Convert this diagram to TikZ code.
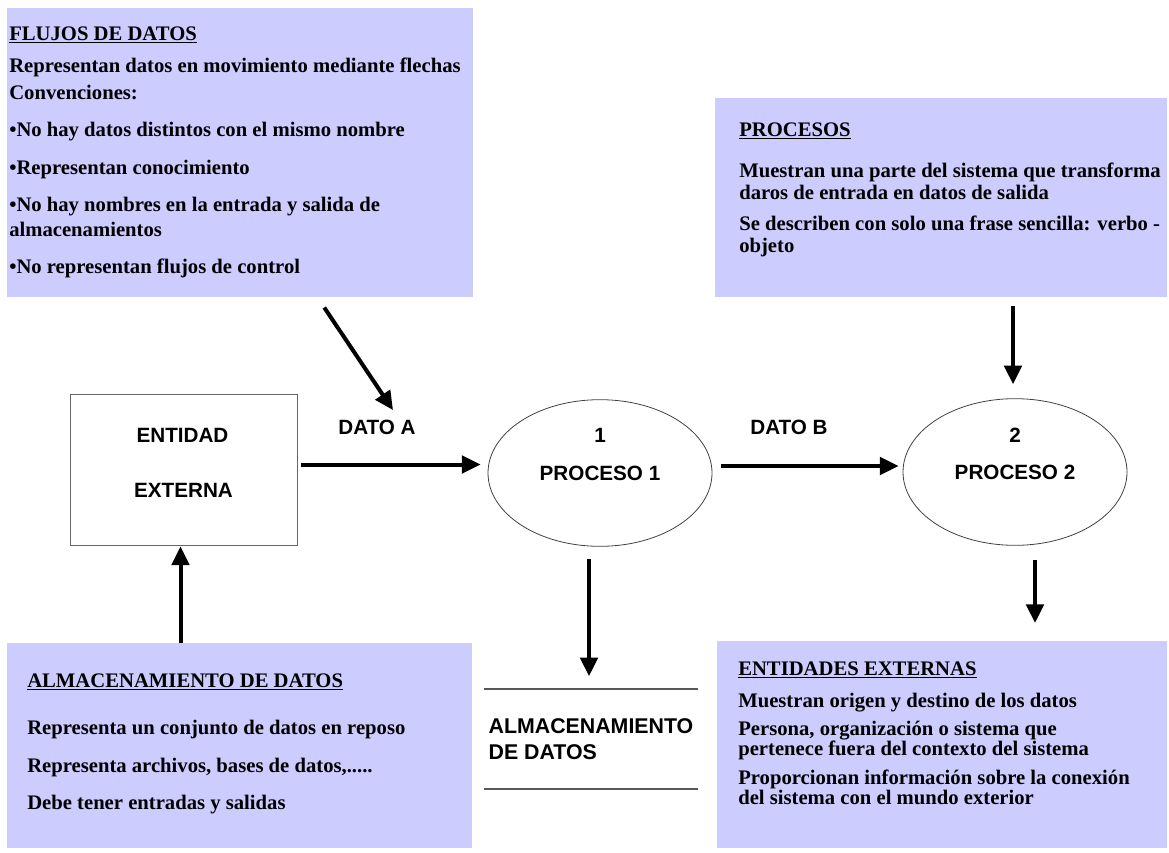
\documentclass[tikz,border=0pt]{standalone}
\usepackage{fontspec}
\setmainfont{Liberation Serif}
\setsansfont{Liberation Sans}
\usepackage{xcolor}
\usepackage{tikz}
\usetikzlibrary{positioning,arrows.meta,calc,shapes.geometric}
\definecolor{panelblue}{RGB}{204,204,255}

\begin{document}
\begin{tikzpicture}[
  x=0.75pt, y=-0.75pt,
  panel/.style={fill=panelblue, draw=none, inner sep=0pt, anchor=north west},
  ptxt/.style={font={\bfseries\fontsize{15.5}{#1}\selectfont\lineskiplimit=-30pt}, align=left, anchor=north west, inner sep=0pt},
  ptxt/.default=17pt,
  lbl/.style={font=\sffamily\bfseries\fontsize{15.5}{20}\selectfont, inner sep=1pt},
  proc/.style={ellipse, draw=black!75, line width=0.6pt, minimum width=168pt, minimum height=110pt, inner sep=0pt, font=\sffamily\bfseries\fontsize{15.5}{20}\selectfont},
  entbox/.style={draw=black!60, line width=0.6pt, minimum width=170.25pt, minimum height=113.25pt, inner sep=0pt},
  storebox/.style={minimum width=159.75pt, minimum height=74.25pt, inner sep=0pt, align=left, font=\sffamily\bfseries\fontsize{16}{20}\selectfont},
  storeline/.style={draw=black!65, line width=1.2pt},
  flow/.style={-{Triangle[length=14pt,width=13pt]}, line width=3pt},
]
\useasboundingbox (0,0) rectangle (1169,852);
% ================= NOTES =================
\node[panel, minimum width=349.5pt, minimum height=216.75pt] (flujos) at (7,8) {};
\node[ptxt=18.75pt] (flujost) at (9,26.5) {\underline{FLUJOS DE DATOS}\\[5pt]
Representan datos en movimiento mediante flechas\\[2pt]
Convenciones:\\[9pt]
•No hay datos distintos con el mismo nombre\\[9.5pt]
•Representan conocimiento\\[9pt]
•No hay nombres en la entrada y salida de\\
almacenamientos\\[9pt]
•No representan flujos de control};
\node[panel, minimum width=339pt, minimum height=149.25pt] (procesos) at (715,98) {};
\node[ptxt=16.5pt] (procesost) at (739,122.5) {\underline{PROCESOS}\\[14pt]
Muestran una parte del sistema que transforma\\
daros de entrada en datos de salida\\[7pt]
Se describen con solo una frase sencilla: verbo -\\
objeto};
\node[panel, minimum width=348.75pt, minimum height=153.75pt] (almacen) at (7,643) {};
\node[ptxt=17pt] (almacent) at (27,673.5) {\underline{ALMACENAMIENTO DE DATOS}\\[18pt]
Representa un conjunto de datos en reposo\\[11.5pt]
Representa archivos, bases de datos,.....\\[11pt]
Debe tener entradas y salidas};
\node[panel, minimum width=337.5pt, minimum height=155.25pt] (entidades) at (717,641) {};
\node[ptxt=15pt] (entidadest) at (738,661.5) {\underline{ENTIDADES EXTERNAS}\\[9pt]
Muestran origen y destino de los datos\\[6pt]
Persona, organización o sistema que\\
pertenece fuera del contexto del sistema\\[7pt]
Proporcionan información sobre la conexión\\
del sistema con el mundo exterior};
% ================= DIAGRAM =================
\node[entbox] (extent) at (183.5,469.5) {};
\node[lbl] (extent1) at ($(extent.center)+(-1,-34.5)$) {ENTIDAD};
\node[lbl] (extent2) at ($(extent.center)+(0,20.5)$) {EXTERNA};
\node[proc] (p1) at (600,473) {PROCESO 1};
\node[lbl] (p1num) at ($(p1.center)+(0,-38)$) {1};
\node[proc] (p2) at (1015,472) {PROCESO 2};
\node[lbl] (p2num) at ($(p2.center)+(0,-37)$) {2};
\node[storebox] (store) at (591,739) {ALMACENAMIENTO\\DE DATOS};
\draw[storeline] (store.north west) -- (store.north east);
\draw[storeline] (store.south west) -- (store.south east);
\node[lbl] (dA) at (377,427) {DATO A};
\node[lbl] (dB) at (789,427) {DATO B};
% flows
\draw[flow] ($(flujos.south)+(84,10)$) -- ($(dA.north)+(16,-8)$);
\draw[flow] ($(extent.east)+(4,-5)$) -- ($(extent.east -| p1.west)+(-7,-5)$);
\draw[flow] ($(p1.east)+(9,-7)$) -- ($(p1.east -| p2.west)+(-4,-7)$);
\draw[flow] ($(p2.north |- procesos.south)+(-2,8)$) -- ($(p2.north)+(-2,-14)$);
\draw[flow] ($(p2.south)+(20,14)$) -- ($(p2.south |- entidades.north)+(20,-18)$);
\draw[flow] ($(p1.south)+(-11,12)$) -- ($(p1.south |- store.north)+(-11,-13)$);
\draw[flow] ($(extent.south |- almacen.north)+(-3,0)$) -- ($(extent.south)+(-3,1)$);
\end{tikzpicture}
\end{document}
